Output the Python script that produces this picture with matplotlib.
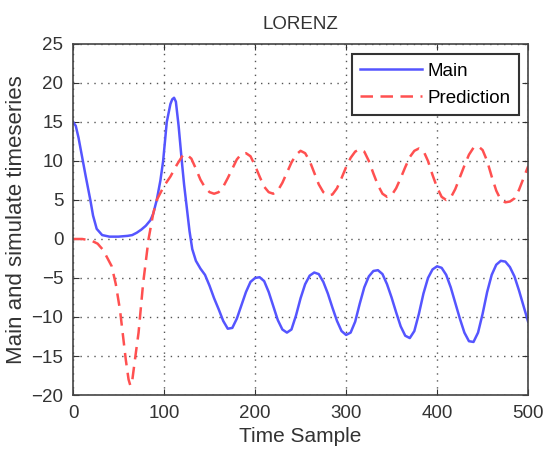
import matplotlib
matplotlib.use("Agg")
import matplotlib.pyplot as plt

plt.rcParams['font.family'] = ['Liberation Sans', 'DejaVu Sans']

# Main series (blue, solid)
main_x = [0, 3, 6, 10, 14, 17, 19, 22, 26, 32, 40, 50, 60, 65, 70, 75, 80, 85, 88,
          92, 96, 99, 103, 107, 109, 111, 113, 116, 119.5, 122, 125, 128, 131, 135,
          140, 145, 150, 155, 160, 165, 170, 175, 180, 185, 190, 195, 200, 205,
          210, 215, 220, 225, 230, 235, 240, 245, 250, 255, 260, 265, 270, 275,
          280, 285, 290, 295, 300, 305, 310, 315, 320, 325, 330, 335, 340, 345,
          350, 355, 360, 365, 370, 375, 380, 385, 390, 395, 400, 405, 410, 415,
          420, 425, 430, 435, 440, 445, 450, 455, 460, 465, 470, 475, 480, 485,
          490, 495, 500]
main_y = [15.0, 14.5, 13.0, 10.5, 8.0, 6.2, 5.0, 3.0, 1.3, 0.5, 0.3, 0.3, 0.4, 0.5,
          0.8, 1.2, 1.7, 2.4, 3.2, 5.0, 7.5, 10.0, 15.0, 17.3, 17.9, 18.1, 17.6, 14.5,
          10.0, 7.0, 4.0, 1.0, -1.3, -2.8,
          -3.8, -4.6, -6.0, -7.6, -9.0, -10.5, -11.5, -11.4, -10.2, -8.5, -6.8,
          -5.5, -5.0, -4.9, -5.4, -6.8, -8.6, -10.4, -11.6, -12.0, -11.6, -9.8,
          -7.6, -5.8, -4.7, -4.3, -4.5, -5.5, -7.0, -8.8, -10.5, -11.8, -12.3,
          -12.0, -10.6, -8.3, -6.2, -4.8, -4.1, -4.0, -4.5, -5.8, -7.5, -9.4,
          -11.2, -12.4, -12.7, -11.8, -9.6, -7.0, -5.0, -3.9, -3.5, -3.7, -4.6,
          -6.2, -8.2, -10.2, -12.0, -13.1, -13.2, -12.0, -9.6, -6.8, -4.6, -3.3,
          -2.8, -2.9, -3.6, -4.8, -6.6, -8.6, -10.6]

# Prediction series (red, dashed)
pred_x = [0, 10, 20, 27, 33, 38, 42.5, 47, 51.6, 55, 58, 61, 63, 65, 68, 72, 77,
          83, 88, 92, 100, 107, 114, 121, 125, 130, 135, 140, 145, 150, 155, 160,
          165, 170, 175, 180, 185, 190, 195, 200, 205, 210, 215, 220, 225, 230,
          235, 240, 245, 250, 255, 260, 265, 270, 275, 280, 285, 290, 295, 300,
          305, 310, 315, 320, 325, 330, 335, 340, 345, 350, 355, 360, 365, 370,
          375, 380, 385, 390, 395, 400, 405, 410, 415, 420, 425, 430, 435, 440,
          445, 450, 455, 460, 465, 470, 475, 480, 485, 490, 495, 500]
pred_y = [0.0, 0.0, -0.2, -0.6, -1.4, -2.5, -3.5, -5.8, -9.1, -12.5, -15.5, -18.0,
          -18.8, -18.2, -15.5, -12.0, -5.7, 0.0, 3.2, 5.0, 6.8, 8.0, 9.5, 10.8,
          10.8, 10.3, 9.0, 7.6, 6.6, 6.0, 5.8, 6.0, 6.7, 7.8, 9.0, 10.2, 10.9,
          11.0, 10.6, 9.4, 8.0, 6.7, 6.0, 5.8, 6.2, 7.2, 8.5, 9.8, 10.8, 11.3,
          11.0, 10.0, 8.5, 7.0, 6.0, 5.6, 5.7, 6.5, 7.8, 9.2, 10.4, 11.2, 11.5,
          11.2, 10.0, 8.4, 6.9, 5.8, 5.4, 5.6, 6.5, 7.8, 9.2, 10.5, 11.3, 11.6,
          11.3, 10.0, 8.2, 6.6, 5.4, 5.0, 5.3, 6.4, 7.9, 9.4, 10.8, 11.7, 11.9,
          11.4, 10.0, 8.0, 6.2, 5.0, 4.7, 4.8, 5.2, 6.3, 7.8, 9.3]

x_ticks = [0, 100, 200, 300, 400, 500]
y_ticks = [-20, -15, -10, -5, 0, 5, 10, 15, 20, 25]

fig = plt.figure(figsize=(5.45, 4.53), dpi=100)
ax = fig.add_axes([0.134, 0.128, 0.835, 0.775])

ax.plot(main_x, main_y, color='#5555ff', lw=1.8, label='Main')
ax.plot(pred_x, pred_y, color='#ff5050', lw=1.8, ls=(0, (5, 3)), label='Prediction')

ax.set_xlim(0, 500)
ax.set_ylim(-20, 25)
ax.set_xticks(x_ticks)
ax.set_yticks(y_ticks)
ax.tick_params(direction='in', top=True, right=True, labelsize=13.5, length=4,
               pad=7, colors='#333333', labelcolor='#333333')
ax.grid(True, ls=(0, (1, 4)), color='#555555', lw=1.0)
for s in ax.spines.values():
    s.set_color('#444444')
    s.set_linewidth(1.2)

ax.set_title('LORENZ', fontsize=13.5, color='#333333', pad=11)
ax.set_xlabel('Time Sample', fontsize=15, color='#333333', labelpad=4)
ax.set_ylabel('Main and simulate timeseries', fontsize=16, color='#333333', labelpad=3)

leg = ax.legend(loc='upper right', fontsize=13.5, handlelength=3.3, fancybox=False,
                framealpha=1, edgecolor='#333333', borderaxespad=0.0,
                handletextpad=0.3, labelspacing=0.5, borderpad=0.45,
                bbox_to_anchor=(0.98, 0.97))
leg.get_frame().set_linewidth(1.5)

fig.savefig('out.png', dpi=100)
